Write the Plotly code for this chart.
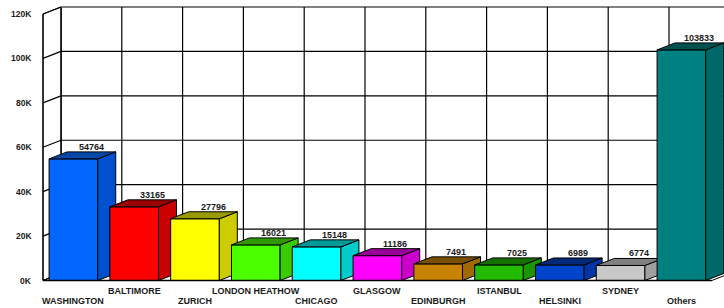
import plotly.graph_objects as go

categories = ["WASHINGTON", "BALTIMORE", "ZURICH", "LONDON HEATHOW", "CHICAGO",
              "GLASGOW", "EDINBURGH", "ISTANBUL", "HELSINKI", "SYDNEY", "Others"]
values = [54764, 33165, 27796, 16021, 15148, 11186, 7491, 7025, 6989, 6774, 103833]
tick_values = [0, 20000, 40000, 60000, 80000, 100000, 120000]
tick_labels = ["0K", "20K", "40K", "60K", "80K", "100K", "120K"]

front_colors = ["#0066FF", "#FF0000", "#FFFF00", "#4CFF00", "#00FFFF", "#FF00FF",
                "#C88400", "#22BB00", "#0044CC", "#C8C8C8", "#008080"]
side_colors = ["#0050D0", "#C80000", "#CCCC00", "#3ACC00", "#00CCCC", "#CC00CC",
               "#A06A00", "#1C9600", "#0036A4", "#A0A0A0", "#006868"]
top_colors = ["#0048A8", "#990000", "#999900", "#2E9900", "#009999", "#990099",
              "#7A5000", "#157000", "#00297A", "#808080", "#005050"]

# 3D projection offsets (in data units)
DX = 0.296     # depth in category units
DY = 3152      # depth in value units
HALF = 0.4     # half bar width
N = len(categories)
YMAX = 120000

fig = go.Figure()

def poly(xs, ys, fill, line="black", lw=1):
    fig.add_trace(go.Scatter(x=xs + [xs[0]], y=ys + [ys[0]], mode="lines",
                             fill="toself", fillcolor=fill,
                             line=dict(color=line, width=lw),
                             hoverinfo="skip", showlegend=False))

def line(xs, ys, color="black", lw=1.2):
    fig.add_trace(go.Scatter(x=xs, y=ys, mode="lines",
                             line=dict(color=color, width=lw),
                             hoverinfo="skip", showlegend=False))

xl = -0.5
xr = N - 0.5

# back wall
poly([xl + DX, xr + DX, xr + DX, xl + DX], [DY, DY, YMAX + DY, YMAX + DY], "white", "black", 1)
# left wall
poly([xl, xl + DX, xl + DX, xl], [0, DY, YMAX + DY, YMAX], "white", "black", 1)
# floor
poly([xl, xr, xr + DX, xl + DX], [0, 0, DY, DY], "white", "black", 1)

# back wall horizontal grid lines
for v in tick_values[1:-1]:
    line([xl + DX, xr + DX], [v + DY, v + DY])
# top border (gray)
line([xl + DX, xr + DX], [YMAX + DY, YMAX + DY], "#808080", 1.5)
# vertical grid lines
for k in range(N + 1):
    line([xl + DX + k, xl + DX + k], [DY, YMAX + DY])
# left wall slanted lines
for v in tick_values:
    line([xl, xl + DX], [v, v + DY])
line([xl, xl], [0, YMAX])

# bars
for i, v in enumerate(values):
    x0, x1 = i - HALF, i + HALF
    poly([x0, x1, x1, x0], [0, 0, v, v], front_colors[i])
    poly([x1, x1 + DX, x1 + DX, x1], [0, DY, v + DY, v], side_colors[i])
    poly([x0, x1, x1 + DX, x0 + DX], [v, v, v + DY, v + DY], top_colors[i])

# floor front line
line([xl, xr], [0, 0], "black", 1.5)

FONT = "Liberation Sans, Arial, sans-serif"
annotations = []
for i, v in enumerate(values):
    annotations.append(dict(x=i + DX, y=v + DY, xref="x", yref="y", text="<b>" + str(v) + "</b>",
                            showarrow=False, yanchor="bottom", yshift=-2,
                            font=dict(size=9, color="#1a1a1a", family=FONT)))
for i, c in enumerate(categories):
    annotations.append(dict(x=i, y=0, xref="x", yref="paper", text="<b>" + c + "</b>",
                            showarrow=False, yanchor="middle",
                            yshift=-18 if i % 2 == 0 else -8,
                            font=dict(size=9, color="#1a1a1a", family=FONT)))
for v, t in zip(tick_values, tick_labels):
    annotations.append(dict(x=xl, y=v, xref="x", yref="y", text="<b>" + t + "</b>",
                            showarrow=False, xanchor="right", yanchor="middle", xshift=-9,
                            font=dict(size=8.5, color="#1a1a1a", family=FONT)))

PXX = 60.8
x0r = -0.5 - 3 / PXX
x1r = x0r + 684 / PXX
PXY = 0.0022208
y0r = -(283 - 280.5) / PXY
y1r = y0r + 278 / PXY

fig.update_layout(
    width=724, height=308,
    margin=dict(l=40, r=0, t=5, b=25),
    paper_bgcolor="white", plot_bgcolor="white",
    xaxis=dict(range=[x0r, x1r], visible=False, fixedrange=True),
    yaxis=dict(range=[y0r, y1r], visible=False, fixedrange=True),
    annotations=annotations,
    showlegend=False,
)

fig.write_html("out.html", config={"displayModeBar": False},
               post_script="document.body.style.margin='0';document.body.style.overflow='hidden';")
